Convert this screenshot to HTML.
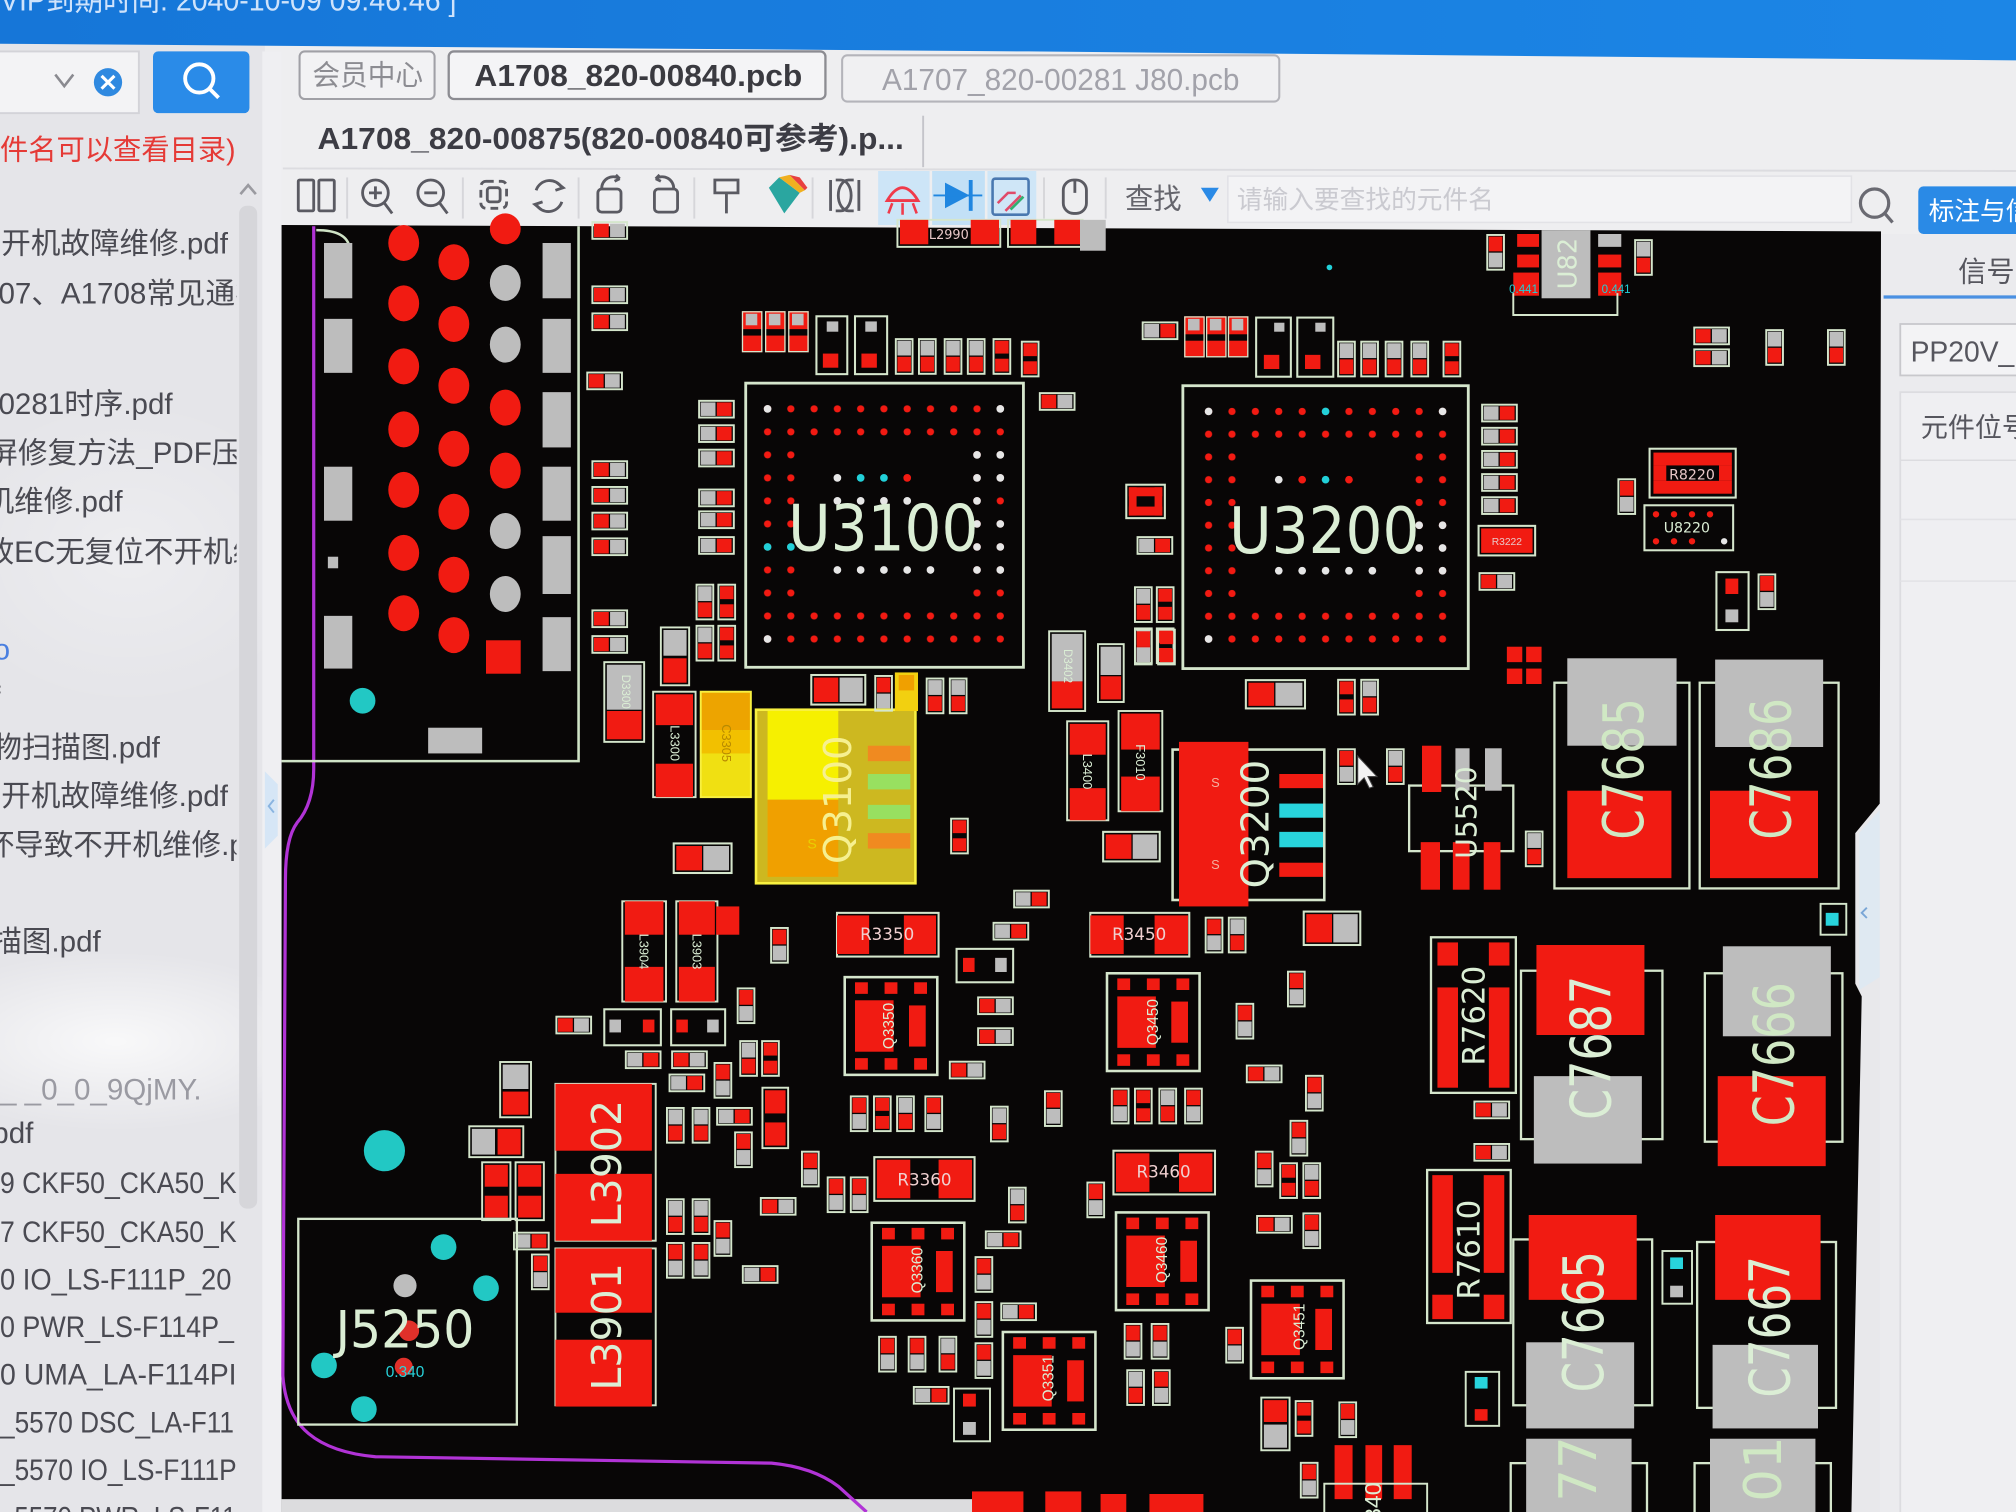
<!DOCTYPE html>
<html><head><meta charset="utf-8"><style>
html,body{margin:0;padding:0;width:2016px;height:1512px;overflow:hidden;background:#e8e8eb}
svg{display:block}
</style></head><body>
<svg xmlns="http://www.w3.org/2000/svg" xmlns:xlink="http://www.w3.org/1999/xlink" width="2016" height="1512" viewBox="0 0 1568 1176" preserveAspectRatio="none" font-family="'Liberation Sans','Noto Sans CJK SC',sans-serif">
<defs>
<pattern id="pa" x="587.95" y="309.05" width="18.1" height="17.9" patternUnits="userSpaceOnUse"><circle cx="9.05" cy="8.95" r="2.8" fill="#f21a12"/></pattern>
<pattern id="pb" x="930.9" y="311.15" width="18.2" height="17.7" patternUnits="userSpaceOnUse"><circle cx="9.1" cy="8.85" r="2.8" fill="#f21a12"/></pattern>
<g id="V1"><rect x="0.75" y="0.75" width="13" height="27" fill="none" stroke="#d5e6cc" stroke-width="1.5"/><rect x="2" y="2" width="10.5" height="11.5" fill="#bdbdbd"/><rect x="2" y="14.5" width="10.5" height="11.5" fill="#f11b12"/></g>
<g id="V2"><rect x="0.75" y="0.75" width="13" height="27" fill="none" stroke="#d5e6cc" stroke-width="1.5"/><rect x="2" y="2" width="10.5" height="11.5" fill="#f11b12"/><rect x="2" y="14.5" width="10.5" height="11.5" fill="#bdbdbd"/></g>
<g id="V3"><rect x="0.75" y="0.75" width="13" height="27" fill="none" stroke="#d5e6cc" stroke-width="1.5"/><rect x="2" y="2" width="10.5" height="10" fill="#f11b12"/><rect x="2" y="16" width="10.5" height="10" fill="#f11b12"/></g>
<g id="H1"><rect x="0.75" y="0.75" width="27" height="13" fill="none" stroke="#d5e6cc" stroke-width="1.5"/><rect x="2" y="2" width="11.5" height="10.5" fill="#f11b12"/><rect x="14.5" y="2" width="11.5" height="10.5" fill="#bdbdbd"/></g>
<g id="H2"><rect x="0.75" y="0.75" width="27" height="13" fill="none" stroke="#d5e6cc" stroke-width="1.5"/><rect x="2" y="2" width="11.5" height="10.5" fill="#bdbdbd"/><rect x="14.5" y="2" width="11.5" height="10.5" fill="#f11b12"/></g>
<g id="Q8"><rect x="0" y="0" width="72" height="76" fill="none" stroke="#d5e6cc" stroke-width="2"/><rect x="8" y="4" width="10" height="9" fill="#f11b12"/><rect x="31" y="4" width="10" height="9" fill="#f11b12"/><rect x="54" y="4" width="10" height="9" fill="#f11b12"/><rect x="8" y="63" width="10" height="9" fill="#f11b12"/><rect x="31" y="63" width="10" height="9" fill="#f11b12"/><rect x="54" y="63" width="10" height="9" fill="#f11b12"/><rect x="8" y="18" width="30" height="40" fill="#f11b12"/><rect x="50" y="22" width="13" height="32" fill="#f11b12"/></g>
<g id="P3"><rect x="0" y="0" width="16" height="32" fill="#f11b12"/><rect x="0" y="14" width="16" height="5" fill="#080606"/><rect x="3" y="2" width="9" height="9" fill="#bdbdbd"/><rect x="0.5" y="0.5" width="15" height="31" fill="none" stroke="#d5e6cc" stroke-width="1"/></g>
<clipPath id="lp"><rect x="0" y="90" width="184" height="1086"/></clipPath>
<radialGradient id="glare" cx="0.5" cy="0.5" r="0.5"><stop offset="0" stop-color="#ffffff" stop-opacity="0.75"/><stop offset="1" stop-color="#ffffff" stop-opacity="0"/></radialGradient>
<linearGradient id="bluebar" x1="0" y1="0" x2="1" y2="0"><stop offset="0" stop-color="#1676d8"/><stop offset="1" stop-color="#1c86e6"/></linearGradient>
</defs>

<!-- base -->
<rect x="0" y="0" width="1568" height="1176" fill="#e8e8eb"/>
<!-- left panel -->
<rect x="0" y="34" width="206" height="1142" fill="#e5e5e9"/>
<ellipse cx="90" cy="810" rx="170" ry="70" fill="url(#glare)"/>
<ellipse cx="100" cy="430" rx="150" ry="120" fill="url(#glare)" opacity="0.4"/>
<!-- main top area -->
<rect x="206" y="34" width="1362" height="150" fill="#eeeef0"/>
<!-- blue top bar -->
<polygon points="0,0 1568,0 1568,47 800,40 0,34" fill="url(#bluebar)"/>
<text x="0" y="8" font-size="24" fill="#cfe3fb" textLength="355" lengthAdjust="spacingAndGlyphs">VIP到期时间: 2040-10-09 09:46:46 ]</text>

<!-- search box left -->
<rect x="-2" y="40" width="110" height="48" fill="#f3f3f5" stroke="#d3d3d8" stroke-width="1.5"/>
<polyline points="43,58 50,67 57,58" fill="none" stroke="#8a8a90" stroke-width="2"/>
<circle cx="84" cy="64" r="11" fill="#2f89e0"/>
<path d="M79,59 L89,69 M89,59 L79,69" stroke="#fff" stroke-width="2.4"/>
<rect x="119" y="40" width="75" height="48" rx="4" fill="#2a8be8"/>
<circle cx="155" cy="61" r="11" fill="none" stroke="#fff" stroke-width="3"/>
<line x1="163" y1="69" x2="170" y2="76" stroke="#fff" stroke-width="3"/>
<text x="-22" y="124" font-size="22" fill="#e53a36">文件名可以查看目录)</text>
<polyline points="187,151 193,144 199,151" fill="none" stroke="#9a9aa0" stroke-width="2"/>
<!-- scrollbar -->
<rect x="186" y="160" width="14" height="780" rx="6" fill="#d6d6da"/>
<!-- file list -->
<g clip-path="url(#lp)" font-size="23" fill="#4a4a52">
<text x="-22" y="197">不开机故障维修.pdf</text>
<text x="-14" y="236">707、A1708常见通病维修</text>
<text x="-14" y="322">00281时序.pdf</text>
<text x="-9" y="360">屏修复方法_PDF压缩</text>
<text x="-12" y="398">机维修.pdf</text>
<text x="-12" y="437">故EC无复位不开机维修</text>
<text x="-5" y="513" fill="#4a7fe0">o</text>
<text x="-6" y="550">f</text>
<text x="-6" y="589">物扫描图.pdf</text>
<text x="-22" y="627">不开机故障维修.pdf</text>
<text x="-12" y="665">坏导致不开机维修.pdf</text>
<text x="-6" y="740">描图.pdf</text>
<text x="0" y="855" fill="#9a9aa2">_ _0_0_9QjMY.</text>
<text x="-6" y="889">pdf</text>
<text x="0" y="928" textLength="184" lengthAdjust="spacingAndGlyphs">9 CKF50_CKA50_K</text>
<text x="0" y="966" textLength="184" lengthAdjust="spacingAndGlyphs">7 CKF50_CKA50_K</text>
<text x="0" y="1003" textLength="180" lengthAdjust="spacingAndGlyphs">0 IO_LS-F111P_20</text>
<text x="0" y="1040" textLength="182" lengthAdjust="spacingAndGlyphs">0 PWR_LS-F114P_</text>
<text x="0" y="1077" textLength="184" lengthAdjust="spacingAndGlyphs">0 UMA_LA-F114PI</text>
<text x="0" y="1114" textLength="182" lengthAdjust="spacingAndGlyphs">_5570 DSC_LA-F11</text>
<text x="0" y="1151" textLength="184" lengthAdjust="spacingAndGlyphs">_5570 IO_LS-F111P</text>
<text x="0" y="1188" textLength="184" lengthAdjust="spacingAndGlyphs">_5570 PWR_LS-F11</text>
</g>
<!-- separator -->
<rect x="204" y="40" width="15" height="1136" fill="#efeff2"/>
<path d="M206,600 L216,610 L216,650 L206,660 Z" fill="#d6e6f6"/>
<polyline points="213,622 209,627 213,632" fill="none" stroke="#8ab4e0" stroke-width="1.5"/>

<!-- tabs -->
<rect x="233" y="40" width="105" height="37" rx="4" fill="#f2f2f4" stroke="#a0a0a6" stroke-width="1.6"/>
<text x="243" y="66" font-size="22" fill="#8c8c92" textLength="86" lengthAdjust="spacingAndGlyphs">会员中心</text>
<rect x="349" y="40" width="293" height="37" rx="4" fill="#f4f4f6" stroke="#8c8c92" stroke-width="1.8"/>
<text x="369" y="67" font-size="24" font-weight="bold" fill="#3a3a40" textLength="255" lengthAdjust="spacingAndGlyphs">A1708_820-00840.pcb</text>
<rect x="655" y="43" width="340" height="36" rx="4" fill="#f0f0f2" stroke="#b4b4ba" stroke-width="1.6"/>
<text x="686" y="70" font-size="24" fill="#a2a2aa" textLength="278" lengthAdjust="spacingAndGlyphs">A1707_820-00281 J80.pcb</text>
<text x="247" y="116" font-size="24" font-weight="bold" fill="#3c3c44" textLength="456" lengthAdjust="spacingAndGlyphs">A1708_820-00875(820-00840可参考).p...</text>
<line x1="718" y1="90" x2="718" y2="130" stroke="#c4c4ca" stroke-width="1.5"/>
<line x1="220" y1="131" x2="1568" y2="133" stroke="#dcdce0" stroke-width="1.5"/>

<!-- toolbar icons -->
<g fill="none" stroke="#5a5a62" stroke-width="2.2">
<rect x="232" y="140" width="12" height="24" rx="1"/><rect x="248" y="140" width="12" height="24" rx="1"/>
<circle cx="292" cy="150" r="10"/><line x1="299" y1="158" x2="305" y2="166"/><path d="M287,150 h10 M292,145 v10"/>
<circle cx="335" cy="150" r="10"/><line x1="342" y1="158" x2="348" y2="166"/><path d="M330,150 h10"/>
<rect x="374" y="141" width="20" height="21" rx="4" stroke-dasharray="6 4"/><rect x="379" y="146" width="10" height="11" rx="2"/>
<path d="M417,148 A11,11 0 0 1 437,146 M437,157 A11,11 0 0 1 417,159"/><path d="M433,142 l5,4 l-6,2 M421,163 l-5,-4 l6,-2"/>
<rect x="465" y="147" width="18" height="18" rx="3"/><path d="M468,147 A9,9 0 0 1 482,139 l-3,-3 M482,139 l-4,2"/>
<rect x="509" y="147" width="18" height="18" rx="3"/><path d="M524,147 A9,9 0 0 0 510,139 l3,-3 M510,139 l4,2"/>
<path d="M556,140 h18 v10 h-18 z M565,150 v16"/>
<path d="M646,140 v24 M650,140 h4 a8,12 0 0 1 0,24 h-4 M668,140 v24 M664,140 h-4 a8,12 0 0 0 0,24 h4"/>
<rect x="827" y="140" width="18" height="26" rx="8"/><line x1="836" y1="140" x2="836" y2="150"/>
</g>
<g stroke="#d6d6da" stroke-width="1.5"><line x1="270" y1="138" x2="270" y2="170"/><line x1="360" y1="138" x2="360" y2="170"/><line x1="450" y1="138" x2="450" y2="170"/><line x1="540" y1="138" x2="540" y2="170"/><line x1="632" y1="138" x2="632" y2="170"/><line x1="812" y1="138" x2="812" y2="170"/><line x1="860" y1="138" x2="860" y2="170"/></g>
<polygon points="598,146 606,138 622,150 610,166" fill="#2aa6a0"/><polygon points="606,138 614,136 626,148 622,150" fill="#f0b020"/><polygon points="614,136 622,138 628,146 626,148" fill="#e84040"/>
<rect x="683" y="133" width="40" height="42" fill="#cde5f7"/>
<path d="M690,156 q12,-20 24,0 z" fill="none" stroke="#f03a4a" stroke-width="2.2"/><path d="M694,158 l-3,8 M702,158 v9 M710,158 l3,8" stroke="#f03a4a" stroke-width="2"/>
<rect x="725" y="133" width="41" height="42" fill="#c2e0f6"/>
<polygon points="735,142 754,152 735,162" fill="#1f86e0"/><line x1="755" y1="140" x2="755" y2="164" stroke="#1f86e0" stroke-width="3"/><line x1="726" y1="152" x2="764" y2="152" stroke="#1f86e0" stroke-width="1.5"/>
<rect x="768" y="133" width="38" height="42" fill="#cfe6f7"/>
<rect x="772" y="139" width="28" height="28" rx="2" fill="none" stroke="#4a78b0" stroke-width="2"/><path d="M776,158 l8,-8 h6 M782,164 l12,-12" stroke="#e04a6a" stroke-width="2" fill="none"/><path d="M786,163 l10,-10" stroke="#30b070" stroke-width="2"/>
<text x="875" y="162" font-size="22" fill="#65656c">查找</text>
<polygon points="934,146 948,146 941,157" fill="#2a8ae6"/>
<rect x="955" y="137" width="485" height="36" fill="#f3f3f5" stroke="#e2e2e6" stroke-width="1.2"/>
<text x="962" y="162" font-size="20" fill="#cacad0">请输入要查找的元件名</text>
<circle cx="1458" cy="158" r="11" fill="none" stroke="#6a6a72" stroke-width="2.5"/><line x1="1466" y1="166" x2="1472" y2="173" stroke="#6a6a72" stroke-width="2.5"/>
<rect x="1492" y="145" width="82" height="37" rx="4" fill="#2a8ae6"/>
<text x="1500" y="171" font-size="20" fill="#ffffff">标注与信号</text>

<!-- right panel -->
<rect x="1462" y="182" width="106" height="994" fill="#ebebee"/>
<text x="1523" y="219" font-size="22" fill="#56565e">信号</text>
<line x1="1465" y1="231" x2="1568" y2="231" stroke="#4a90e2" stroke-width="2.5"/>
<rect x="1478" y="252" width="100" height="40" fill="#f3f3f5" stroke="#c8c8cc" stroke-width="1.4"/>
<text x="1486" y="281" font-size="22" fill="#56565e">PP20V_U</text>
<rect x="1478" y="305" width="100" height="880" fill="#efeff2" stroke="#dcdce0" stroke-width="1.4"/>
<text x="1494" y="340" font-size="21" fill="#56565e">元件位号</text>
<line x1="1478" y1="358" x2="1568" y2="358" stroke="#dcdce0" stroke-width="1.2"/>
<line x1="1478" y1="404" x2="1568" y2="404" stroke="#e2e2e6" stroke-width="1.2"/>
<line x1="1478" y1="452" x2="1568" y2="452" stroke="#e2e2e6" stroke-width="1.2"/>

<!-- PCB black -->
<polygon points="219,175 1463,180 1462,625 1443,648 1443,765 1448,775 1440,1176 219,1176" fill="#080606"/>
<path d="M1446,648 L1462,630 L1462,760 L1446,770 Z" fill="#dfe9f2"/>
<polyline points="1452,706 1448,710 1452,714" fill="none" stroke="#7aa6d6" stroke-width="1.5"/>
<rect x="219" y="1166" width="540" height="10" fill="#dcdcde"/>

<!-- board edge & outlines -->
<path d="M244,176 L244,598 Q244,625 231,640 Q222,652 222,684 L220,1070 Q222,1100 240,1115 Q258,1130 292,1133 L600,1138 Q632,1141 652,1156 L674,1176" fill="none" stroke="#b133d6" stroke-width="2.5"/>
<path d="M450,176 L450,592 L219,592" fill="none" stroke="#cfe3c6" stroke-width="2"/>
<path d="M246,179 Q270,179 272,193" fill="none" stroke="#cfe3c6" stroke-width="2"/>

<!-- connector block -->
<g fill="#bdbdbd">
<rect x="252" y="189" width="22" height="43"/><rect x="252" y="248" width="22" height="42"/><rect x="252" y="363" width="22" height="42"/><rect x="255" y="433" width="8" height="9"/><rect x="252" y="479" width="22" height="41"/>
<rect x="422" y="189" width="22" height="43"/><rect x="422" y="248" width="22" height="42"/><rect x="422" y="305" width="22" height="43"/><rect x="422" y="363" width="22" height="42"/><rect x="422" y="417" width="22" height="45"/><rect x="422" y="480" width="22" height="42"/>
<rect x="333" y="566" width="42" height="20"/>
<ellipse cx="393" cy="220" rx="12" ry="14"/><ellipse cx="393" cy="268" rx="12" ry="14"/><ellipse cx="393" cy="413" rx="12" ry="14"/><ellipse cx="393" cy="462" rx="12" ry="14"/>
</g>
<g fill="#f11b12">
<ellipse cx="314" cy="189" rx="12" ry="14"/><ellipse cx="314" cy="236" rx="12" ry="14"/><ellipse cx="314" cy="285" rx="12" ry="14"/><ellipse cx="314" cy="334" rx="12" ry="14"/><ellipse cx="314" cy="381" rx="12" ry="14"/><ellipse cx="314" cy="430" rx="12" ry="14"/><ellipse cx="314" cy="477" rx="12" ry="14"/>
<ellipse cx="353" cy="204" rx="12" ry="14"/><ellipse cx="353" cy="252" rx="12" ry="14"/><ellipse cx="353" cy="300" rx="12" ry="14"/><ellipse cx="353" cy="349" rx="12" ry="14"/><ellipse cx="353" cy="398" rx="12" ry="14"/><ellipse cx="353" cy="447" rx="12" ry="14"/><ellipse cx="353" cy="494" rx="12" ry="14"/>
<ellipse cx="393" cy="178" rx="12" ry="12"/><ellipse cx="393" cy="317" rx="12" ry="14"/><ellipse cx="393" cy="366" rx="12" ry="14"/>
<rect x="378" y="498" width="27" height="26"/>
</g>
<circle cx="282" cy="545" r="10" fill="#22c8c4"/>

<!-- column pads x460 -->
<use href="#H1" x="460" y="172"/><use href="#H1" x="460" y="222"/><use href="#H1" x="460" y="243"/><use href="#H1" x="456" y="289"/>
<use href="#H1" x="460" y="358"/><use href="#H1" x="460" y="378"/><use href="#H1" x="460" y="398"/><use href="#H1" x="460" y="418"/>
<use href="#H1" x="460" y="474"/><use href="#H1" x="460" y="494"/>
<!-- left of U3100 -->
<use href="#H2" x="543" y="311"/><use href="#H2" x="543" y="330"/><use href="#H2" x="543" y="349"/><use href="#H2" x="543" y="380"/><use href="#H2" x="543" y="397"/><use href="#H2" x="543" y="417"/>
<use href="#V1" x="541" y="454"/><use href="#V3" x="558" y="454"/><use href="#V1" x="541" y="486"/><use href="#V3" x="558" y="486"/>
<!-- above U3100 -->
<use href="#P3" x="577" y="242"/><use href="#P3" x="595" y="242"/><use href="#P3" x="613" y="242"/>
<rect x="635" y="246" width="24" height="45" fill="none" stroke="#d5e6cc" stroke-width="1.6"/><rect x="640" y="275" width="12" height="11" fill="#f11b12"/><rect x="643" y="250" width="9" height="8" fill="#bdbdbd"/>
<rect x="665" y="246" width="25" height="45" fill="none" stroke="#d5e6cc" stroke-width="1.6"/><rect x="670" y="275" width="12" height="11" fill="#f11b12"/><rect x="673" y="250" width="9" height="8" fill="#bdbdbd"/>
<use href="#V1" x="696" y="263"/><use href="#V1" x="714" y="263"/><use href="#V1" x="734" y="263"/><use href="#V1" x="752" y="263"/><use href="#V3" x="772" y="263"/><use href="#V3" x="794" y="265"/>
<use href="#H1" x="808" y="305"/>
<!-- top strip -->
<rect x="698" y="171" width="80" height="21" fill="none" stroke="#d5e6cc" stroke-width="1.5"/><rect x="700" y="171" width="22" height="19" fill="#f11b12"/><rect x="755" y="171" width="22" height="19" fill="#f11b12"/>
<text x="738" y="186" font-size="10" fill="#e8c8c8" text-anchor="middle" font-family="'DejaVu Sans',sans-serif">L2990</text>
<rect x="784" y="171" width="58" height="21" fill="none" stroke="#d5e6cc" stroke-width="1.5"/><rect x="786" y="171" width="20" height="19" fill="#f11b12"/><rect x="820" y="171" width="20" height="19" fill="#f11b12"/><rect x="840" y="171" width="20" height="24" fill="#bdbdbd"/>

<!-- U3100 -->
<rect x="580" y="298" width="216" height="221" fill="none" stroke="#d5e6cc" stroke-width="2.2"/>
<rect x="587.95" y="309.05" width="199.1" height="35.8" fill="url(#pa)"/>
<rect x="587.95" y="344.85" width="36.2" height="125.3" fill="url(#pa)"/>
<rect x="750.85" y="344.85" width="36.2" height="125.3" fill="url(#pa)"/>
<rect x="587.95" y="470.15" width="199.1" height="35.85" fill="url(#pa)"/>
<g fill="#e6e6e6">
<circle cx="597" cy="318" r="3"/><circle cx="778" cy="318" r="3"/><circle cx="759.9" cy="353.8" r="3"/><circle cx="778" cy="353.8" r="3"/>
<circle cx="651.3" cy="371.7" r="3"/><circle cx="759.9" cy="371.7" r="3"/><circle cx="778" cy="371.7" r="3"/>
<circle cx="651.3" cy="389.6" r="3"/><circle cx="669.4" cy="389.6" r="3"/><circle cx="687.5" cy="389.6" r="3"/><circle cx="705.6" cy="389.6" r="3"/><circle cx="759.9" cy="389.6" r="3"/>
<circle cx="759.9" cy="407.5" r="3"/><circle cx="778" cy="407.5" r="3"/><circle cx="759.9" cy="425.4" r="3"/><circle cx="778" cy="425.4" r="3"/>
<circle cx="651.3" cy="443.3" r="3"/><circle cx="669.4" cy="443.3" r="3"/><circle cx="687.5" cy="443.3" r="3"/><circle cx="705.6" cy="443.3" r="3"/><circle cx="723.7" cy="443.3" r="3"/><circle cx="759.9" cy="443.3" r="3"/><circle cx="778" cy="443.3" r="3"/>
<circle cx="597" cy="497" r="3"/>
</g>
<g fill="#22d0d8"><circle cx="669.4" cy="371.7" r="3"/><circle cx="687.5" cy="371.7" r="3"/><circle cx="597" cy="425.4" r="3"/><circle cx="615.1" cy="425.4" r="3"/></g>
<circle cx="705.6" cy="371.7" r="3" fill="#f21a12"/>
<text x="687" y="428" font-size="50" fill="#dbeed5" text-anchor="middle" textLength="148" lengthAdjust="spacingAndGlyphs" font-family="'DejaVu Sans',sans-serif">U3100</text>

<!-- U3200 top area -->
<use href="#H2" x="888" y="250"/>
<use href="#P3" x="921" y="246"/><use href="#P3" x="938" y="246"/><use href="#P3" x="955" y="246"/>
<rect x="977" y="247" width="27" height="46" fill="none" stroke="#d5e6cc" stroke-width="1.6"/><rect x="983" y="276" width="12" height="11" fill="#f11b12"/><rect x="991" y="251" width="8" height="7" fill="#bdbdbd"/>
<rect x="1009" y="247" width="28" height="46" fill="none" stroke="#d5e6cc" stroke-width="1.6"/><rect x="1015" y="276" width="12" height="11" fill="#f11b12"/><rect x="1023" y="251" width="8" height="7" fill="#bdbdbd"/>
<use href="#V1" x="1040" y="265"/><use href="#V1" x="1058" y="265"/><use href="#V1" x="1077" y="265"/><use href="#V1" x="1097" y="265"/><use href="#V3" x="1122" y="265"/>
<!-- U82 -->
<use href="#V2" x="1156" y="182"/>
<rect x="1180" y="182" width="17" height="10" fill="#f11b12"/><rect x="1180" y="198" width="17" height="10" fill="#f11b12"/><rect x="1177" y="212" width="20" height="18" fill="#f11b12"/>
<rect x="1199" y="179" width="38" height="53" fill="#bdbdbd"/>
<text transform="translate(1220,205) rotate(-90)" font-size="20" fill="#dbeed5" text-anchor="middle" dominant-baseline="central" font-family="'DejaVu Sans',sans-serif">U82</text>
<rect x="1243" y="182" width="18" height="10" fill="#bdbdbd"/><rect x="1243" y="198" width="18" height="10" fill="#f11b12"/><rect x="1243" y="212" width="18" height="18" fill="#f11b12"/>
<use href="#V1" x="1271" y="186"/>
<path d="M1177,228 L1177,245 L1258,245 L1258,228" fill="none" stroke="#d5e6cc" stroke-width="1.5"/>
<text x="1185" y="228" font-size="9" fill="#22d0d8" text-anchor="middle">0.441</text><text x="1257" y="228" font-size="9" fill="#22d0d8" text-anchor="middle">0.441</text>
<circle cx="1034" cy="208" r="2.2" fill="#22d0d8"/>
<!-- right top pads -->
<use href="#H1" x="1317" y="254"/><use href="#H1" x="1317" y="271"/>
<use href="#V1" x="1373" y="256"/><use href="#V1" x="1421" y="256"/>
<!-- R8220 / U8220 -->
<rect x="1283" y="349" width="67" height="38" fill="none" stroke="#d5e6cc" stroke-width="1.6"/>
<rect x="1286" y="352" width="61" height="10" fill="#f11b12"/><rect x="1286" y="374" width="61" height="10" fill="#f11b12"/>
<rect x="1286" y="362" width="10" height="12" fill="#f11b12"/><rect x="1337" y="362" width="10" height="12" fill="#f11b12"/>
<text x="1316" y="373" font-size="11" fill="#e8c8c8" text-anchor="middle" font-family="'DejaVu Sans',sans-serif">R8220</text>
<rect x="1279" y="393" width="69" height="35" fill="none" stroke="#d5e6cc" stroke-width="1.6"/>
<g fill="#f11b12"><circle cx="1288" cy="400" r="2.5"/><circle cx="1302" cy="400" r="2.5"/><circle cx="1316" cy="400" r="2.5"/><circle cx="1330" cy="400" r="2.5"/><circle cx="1288" cy="421" r="2.5"/><circle cx="1302" cy="421" r="2.5"/><circle cx="1316" cy="421" r="2.5"/></g>
<circle cx="1341" cy="421" r="2.5" fill="#e6e6e6"/>
<text x="1312" y="414" font-size="11" fill="#dbeed5" text-anchor="middle" font-family="'DejaVu Sans',sans-serif">U8220</text>
<use href="#V2" x="1258" y="372"/>
<rect x="1335" y="445" width="25" height="45" fill="none" stroke="#d5e6cc" stroke-width="1.6"/><rect x="1342" y="450" width="10" height="12" fill="#f11b12"/><rect x="1342" y="474" width="10" height="10" fill="#bdbdbd"/>
<use href="#V2" x="1367" y="446"/>
<rect x="1172" y="503" width="12" height="12" fill="#f11b12"/><rect x="1187" y="503" width="12" height="12" fill="#f11b12"/><rect x="1172" y="520" width="12" height="12" fill="#f11b12"/><rect x="1187" y="520" width="12" height="12" fill="#f11b12"/>
<!-- right of U3200 -->
<use href="#H2" x="1152" y="314"/><use href="#H2" x="1152" y="332"/><use href="#H2" x="1152" y="350"/><use href="#H2" x="1152" y="368"/><use href="#H2" x="1152" y="386"/>
<rect x="1150" y="409" width="44" height="23" fill="none" stroke="#d5e6cc" stroke-width="1.6"/><rect x="1152" y="411" width="40" height="19" fill="#f11b12"/>
<text x="1172" y="424" font-size="8" fill="#e8c8c8" text-anchor="middle">R3222</text>
<use href="#H1" x="1150" y="445"/>
<!-- left of U3200 -->
<rect x="876" y="377" width="30" height="26" fill="none" stroke="#d5e6cc" stroke-width="1.6"/><rect x="878" y="379" width="26" height="7" fill="#f11b12"/><rect x="878" y="394" width="26" height="7" fill="#f11b12"/><rect x="878" y="379" width="6" height="22" fill="#f11b12"/><rect x="898" y="379" width="6" height="22" fill="#f11b12"/>
<use href="#H2" x="884" y="417"/>
<use href="#V1" x="882" y="456"/><use href="#V3" x="899" y="456"/><use href="#V1" x="882" y="488"/><use href="#V3" x="899" y="488"/>

<!-- U3200 -->
<rect x="920" y="300" width="222" height="220" fill="none" stroke="#d5e6cc" stroke-width="2.2"/>
<rect x="930.9" y="311.15" width="200.2" height="35.4" fill="url(#pb)"/>
<rect x="930.9" y="346.55" width="36.4" height="123.9" fill="url(#pb)"/>
<rect x="1094.7" y="346.55" width="36.4" height="123.9" fill="url(#pb)"/>
<rect x="930.9" y="470.45" width="200.2" height="35.4" fill="url(#pb)"/>
<g fill="#e6e6e6">
<circle cx="940" cy="320" r="3"/><circle cx="1122" cy="320" r="3"/>
<circle cx="994.6" cy="373.1" r="3"/>
<circle cx="1103.8" cy="408.5" r="3"/><circle cx="1122" cy="408.5" r="3"/><circle cx="1103.8" cy="426.2" r="3"/><circle cx="1122" cy="426.2" r="3"/>
<circle cx="994.6" cy="443.9" r="3"/><circle cx="1012.8" cy="443.9" r="3"/><circle cx="1031" cy="443.9" r="3"/><circle cx="1049.2" cy="443.9" r="3"/><circle cx="1067.4" cy="443.9" r="3"/><circle cx="1103.8" cy="443.9" r="3"/><circle cx="1122" cy="443.9" r="3"/>
<circle cx="940" cy="497" r="3"/>
</g>
<circle cx="1031" cy="320" r="3" fill="#22d0d8"/><circle cx="1031" cy="373.1" r="3" fill="#22d0d8"/>
<circle cx="1012.8" cy="373.1" r="3" fill="#f21a12"/><circle cx="1049.2" cy="373.1" r="3" fill="#f21a12"/>
<text x="1030" y="430" font-size="50" fill="#dbeed5" text-anchor="middle" textLength="148" lengthAdjust="spacingAndGlyphs" font-family="'DejaVu Sans',sans-serif">U3200</text>

<!-- below U3100 -->
<rect x="514" y="488" width="22" height="45" fill="none" stroke="#d5e6cc" stroke-width="1.5"/><rect x="516" y="490" width="18" height="20" fill="#bdbdbd"/><rect x="516" y="512" width="18" height="19" fill="#f11b12"/>
<rect x="470" y="515" width="31" height="62" fill="none" stroke="#d5e6cc" stroke-width="1.5"/><rect x="472" y="517" width="27" height="35" fill="#bdbdbd"/><rect x="472" y="553" width="27" height="22" fill="#f11b12"/>
<text transform="translate(486,538) rotate(90)" font-size="9" fill="#dbeed5" text-anchor="middle" dominant-baseline="central">D3300</text>
<rect x="508" y="538" width="33" height="82" fill="none" stroke="#d5e6cc" stroke-width="1.5"/><rect x="510" y="540" width="29" height="24" fill="#f11b12"/><rect x="510" y="594" width="29" height="26" fill="#f11b12"/>
<text transform="translate(525,578) rotate(90)" font-size="10" fill="#dbeed5" text-anchor="middle" dominant-baseline="central">L3300</text>
<rect x="545" y="538" width="39" height="82" fill="#f0e012"/><rect x="545" y="538" width="39" height="30" fill="#eda400"/><rect x="545" y="568" width="39" height="18" fill="#f2c000"/>
<rect x="545" y="538" width="39" height="82" fill="none" stroke="#f8f040" stroke-width="1.5"/>
<text transform="translate(565,578) rotate(90)" font-size="10" fill="#b88a00" text-anchor="middle" dominant-baseline="central">C3305</text>
<!-- Q3100 -->
<rect x="588" y="552" width="124" height="135" fill="#cdb820"/>
<rect x="597" y="553" width="55" height="69" fill="#f6f000"/>
<rect x="597" y="622" width="55" height="60" fill="#f0a000"/>
<rect x="675" y="580" width="33" height="12" fill="#f08a20"/><rect x="675" y="602" width="33" height="12" fill="#98e060"/><rect x="675" y="626" width="33" height="11" fill="#98e060"/><rect x="675" y="648" width="33" height="12" fill="#f08a20"/>
<rect x="588" y="552" width="124" height="135" fill="none" stroke="#f8f040" stroke-width="2"/>
<text x="628" y="660" font-size="11" fill="#e8d000">S</text>
<text transform="translate(652,622) rotate(-90)" font-size="30" fill="#f6f090" text-anchor="middle" dominant-baseline="central" font-family="'DejaVu Sans',sans-serif">Q3100</text>
<rect x="696" y="523" width="18" height="30" fill="#f2d010"/><rect x="699" y="525" width="12" height="12" fill="#f0a000"/>
<rect x="631" y="525" width="42" height="23" fill="none" stroke="#d5e6cc" stroke-width="1.6"/><rect x="633" y="527" width="19" height="19" fill="#f11b12"/><rect x="653" y="527" width="18" height="19" fill="#bdbdbd"/>
<use href="#V2" x="680" y="525"/><use href="#V1" x="720" y="527"/><use href="#V1" x="738" y="527"/>
<rect x="524" y="656" width="45" height="23" fill="none" stroke="#d5e6cc" stroke-width="1.6"/><rect x="526" y="658" width="20" height="19" fill="#f11b12"/><rect x="547" y="658" width="20" height="19" fill="#bdbdbd"/>
<use href="#V3" x="739" y="636"/>
<!-- D3402 etc -->
<rect x="816" y="491" width="28" height="62" fill="none" stroke="#d5e6cc" stroke-width="1.5"/><rect x="818" y="493" width="24" height="37" fill="#bdbdbd"/><rect x="818" y="530" width="24" height="21" fill="#f11b12"/>
<text transform="translate(830,518) rotate(90)" font-size="9" fill="#dbeed5" text-anchor="middle" dominant-baseline="central">D3402</text>
<rect x="854" y="501" width="20" height="45" fill="none" stroke="#d5e6cc" stroke-width="1.5"/><rect x="856" y="503" width="16" height="22" fill="#bdbdbd"/><rect x="856" y="526" width="16" height="18" fill="#f11b12"/>
<use href="#V2" x="882" y="489"/><use href="#V3" x="900" y="489"/>
<rect x="969" y="529" width="46" height="22" fill="none" stroke="#d5e6cc" stroke-width="1.6"/><rect x="971" y="531" width="20" height="18" fill="#f11b12"/><rect x="992" y="531" width="21" height="18" fill="#bdbdbd"/>
<use href="#V3" x="1040" y="528"/><use href="#V1" x="1058" y="528"/>
<rect x="830" y="561" width="32" height="77" fill="none" stroke="#d5e6cc" stroke-width="1.5"/><rect x="832" y="563" width="28" height="24" fill="#f11b12"/><rect x="832" y="613" width="28" height="25" fill="#f11b12"/>
<text transform="translate(846,600) rotate(90)" font-size="10" fill="#dbeed5" text-anchor="middle" dominant-baseline="central">L3400</text>
<rect x="870" y="553" width="34" height="78" fill="none" stroke="#d5e6cc" stroke-width="1.5"/><rect x="872" y="555" width="30" height="28" fill="#f11b12"/><rect x="872" y="604" width="30" height="27" fill="#f11b12"/>
<text transform="translate(887,593) rotate(90)" font-size="10" fill="#dbeed5" text-anchor="middle" dominant-baseline="central">F3010</text>
<rect x="858" y="647" width="44" height="23" fill="none" stroke="#d5e6cc" stroke-width="1.6"/><rect x="860" y="649" width="20" height="19" fill="#f11b12"/><rect x="881" y="649" width="19" height="19" fill="#bdbdbd"/>
<!-- Q3200 -->
<rect x="912" y="583" width="118" height="117" fill="none" stroke="#d5e6cc" stroke-width="2"/>
<rect x="917" y="577" width="54" height="128" fill="#f11b12"/>
<text x="942" y="612" font-size="10" fill="#f4b0a0">S</text><text x="942" y="676" font-size="10" fill="#f4b0a0">S</text>
<rect x="995" y="602" width="34" height="11" fill="#f11b12"/><rect x="995" y="625" width="34" height="11" fill="#28d4dc"/><rect x="995" y="647" width="34" height="12" fill="#28d4dc"/><rect x="995" y="671" width="34" height="11" fill="#f11b12"/>
<text transform="translate(977,641) rotate(-90)" font-size="30" fill="#dbeed5" text-anchor="middle" dominant-baseline="central" font-family="'DejaVu Sans',sans-serif">Q3200</text>
<use href="#V2" x="1040" y="582"/><use href="#V1" x="1078" y="582"/>
<!-- U5520 -->
<rect x="1096" y="611" width="81" height="51" fill="none" stroke="#d5e6cc" stroke-width="1.8"/>
<rect x="1106" y="580" width="15" height="36" fill="#f11b12"/><rect x="1132" y="582" width="11" height="33" fill="#bdbdbd"/><rect x="1155" y="582" width="13" height="33" fill="#bdbdbd"/>
<rect x="1105" y="655" width="15" height="37" fill="#f11b12"/><rect x="1130" y="655" width="13" height="37" fill="#f11b12"/><rect x="1154" y="655" width="13" height="37" fill="#f11b12"/>
<text transform="translate(1141,632) rotate(-90)" font-size="22" fill="#dbeed5" text-anchor="middle" dominant-baseline="central" font-family="'DejaVu Sans',sans-serif">U5520</text>
<use href="#V1" x="1186" y="646"/>
<polygon points="1056,588 1056,610 1061,605 1065,613 1068,612 1064,604 1071,604" fill="#f4f4f4" stroke="#444" stroke-width="0.8"/>

<!-- big caps top -->
<rect x="1209" y="531" width="105" height="160" fill="none" stroke="#d5e6cc" stroke-width="1.8"/>
<rect x="1219" y="512" width="85" height="68" fill="#bdbdbd"/><rect x="1219" y="615" width="81" height="68" fill="#f11b12"/>
<text transform="translate(1263,598) rotate(-90)" font-size="44" fill="#d0e8c4" text-anchor="middle" dominant-baseline="central" textLength="110" lengthAdjust="spacingAndGlyphs" font-family="'DejaVu Sans',sans-serif">C7685</text>
<rect x="1322" y="531" width="108" height="160" fill="none" stroke="#d5e6cc" stroke-width="1.8"/>
<rect x="1334" y="513" width="84" height="68" fill="#bdbdbd"/><rect x="1330" y="615" width="84" height="68" fill="#f11b12"/>
<text transform="translate(1378,598) rotate(-90)" font-size="44" fill="#d0e8c4" text-anchor="middle" dominant-baseline="central" textLength="110" lengthAdjust="spacingAndGlyphs" font-family="'DejaVu Sans',sans-serif">C7686</text>
<rect x="1416" y="703" width="20" height="24" fill="none" stroke="#d5e6cc" stroke-width="1.5"/><rect x="1420" y="710" width="10" height="10" fill="#28d4dc"/>

<!-- middle left -->
<rect x="484" y="701" width="34" height="78" fill="none" stroke="#d5e6cc" stroke-width="1.5"/><rect x="486" y="701" width="30" height="26" fill="#f11b12"/><rect x="486" y="752" width="30" height="27" fill="#f11b12"/>
<text transform="translate(501,740) rotate(90)" font-size="10" fill="#dbeed5" text-anchor="middle" dominant-baseline="central">L3904</text>
<rect x="526" y="701" width="32" height="78" fill="none" stroke="#d5e6cc" stroke-width="1.5"/><rect x="528" y="701" width="28" height="26" fill="#f11b12"/><rect x="528" y="752" width="28" height="27" fill="#f11b12"/>
<text transform="translate(542,740) rotate(90)" font-size="10" fill="#dbeed5" text-anchor="middle" dominant-baseline="central">L3903</text>
<rect x="557" y="705" width="18" height="22" fill="#f11b12"/>
<use href="#V2" x="599" y="721"/>
<use href="#V2" x="573" y="768"/>
<use href="#H1" x="432" y="790"/>
<rect x="470" y="785" width="44" height="28" fill="none" stroke="#d5e6cc" stroke-width="1.6"/><rect x="474" y="793" width="9" height="10" fill="#bdbdbd"/><rect x="500" y="793" width="9" height="10" fill="#f11b12"/>
<rect x="522" y="785" width="42" height="28" fill="none" stroke="#d5e6cc" stroke-width="1.6"/><rect x="526" y="793" width="9" height="10" fill="#f11b12"/><rect x="550" y="793" width="9" height="10" fill="#bdbdbd"/>
<use href="#H2" x="486" y="817"/><use href="#H1" x="522" y="817"/><use href="#H2" x="520" y="835"/>
<use href="#V2" x="555" y="826"/><use href="#V1" x="575" y="809"/><use href="#V3" x="592" y="809"/>
<rect x="593" y="846" width="20" height="47" fill="none" stroke="#d5e6cc" stroke-width="1.5"/><rect x="595" y="848" width="16" height="18" fill="#f11b12"/><rect x="595" y="873" width="16" height="18" fill="#f11b12"/>
<rect x="389" y="826" width="24" height="43" fill="none" stroke="#d5e6cc" stroke-width="1.5"/><rect x="391" y="828" width="20" height="19" fill="#bdbdbd"/><rect x="391" y="849" width="20" height="18" fill="#f11b12"/>
<rect x="365" y="876" width="42" height="24" fill="none" stroke="#d5e6cc" stroke-width="1.5"/><rect x="367" y="878" width="18" height="20" fill="#bdbdbd"/><rect x="387" y="878" width="18" height="20" fill="#f11b12"/>
<rect x="375" y="904" width="22" height="45" fill="none" stroke="#d5e6cc" stroke-width="1.5"/><rect x="377" y="906" width="18" height="17" fill="#f11b12"/><rect x="377" y="930" width="18" height="17" fill="#f11b12"/>
<rect x="401" y="904" width="22" height="45" fill="none" stroke="#d5e6cc" stroke-width="1.5"/><rect x="403" y="906" width="18" height="17" fill="#f11b12"/><rect x="403" y="930" width="18" height="17" fill="#f11b12"/>
<circle cx="299" cy="895" r="16" fill="#22c8c4"/>
<!-- L3902 / L3901 -->
<rect x="432" y="843" width="78" height="122" fill="#080606" stroke="#d5e6cc" stroke-width="1.5"/>
<rect x="432" y="843" width="75" height="52" fill="#f11b12"/><rect x="432" y="913" width="75" height="52" fill="#f11b12"/>
<text transform="translate(472,905) rotate(-90)" font-size="32" fill="#dbeed5" text-anchor="middle" dominant-baseline="central" font-family="'DejaVu Sans',sans-serif">L3902</text>
<rect x="432" y="971" width="78" height="122" fill="#080606" stroke="#d5e6cc" stroke-width="1.5"/>
<rect x="432" y="971" width="75" height="50" fill="#f11b12"/><rect x="432" y="1042" width="75" height="52" fill="#f11b12"/>
<text transform="translate(472,1032) rotate(-90)" font-size="32" fill="#dbeed5" text-anchor="middle" dominant-baseline="central" font-family="'DejaVu Sans',sans-serif">L3901</text>
<use href="#V1" x="518" y="861"/><use href="#V1" x="538" y="861"/><use href="#H2" x="557" y="861"/><use href="#V2" x="571" y="880"/>
<use href="#V1" x="518" y="932"/><use href="#V1" x="538" y="932"/><use href="#V2" x="518" y="966"/><use href="#V2" x="538" y="966"/>
<use href="#V2" x="555" y="949"/><use href="#H1" x="591" y="931"/><use href="#H2" x="577" y="984"/>
<use href="#H2" x="399" y="958"/><use href="#V2" x="413" y="975"/>
<use href="#V2" x="623" y="895"/><use href="#V2" x="643" y="915"/><use href="#V2" x="661" y="915"/>
<!-- J5250 -->
<rect x="232" y="948" width="170" height="160" fill="none" stroke="#d5e6cc" stroke-width="1.8"/>
<circle cx="345" cy="970" r="10" fill="#22c8c4"/><circle cx="378" cy="1002" r="10" fill="#22c8c4"/><circle cx="252" cy="1062" r="10" fill="#22c8c4"/><circle cx="283" cy="1096" r="10" fill="#22c8c4"/>
<circle cx="315" cy="1000" r="9" fill="#bdbdbd"/><circle cx="318" cy="1035" r="8" fill="#e0302a"/><circle cx="314" cy="1063" r="7" fill="#e0302a"/>
<text x="315" y="1048" font-size="40" fill="#dbeed5" text-anchor="middle" textLength="108" lengthAdjust="spacingAndGlyphs" font-family="'DejaVu Sans',sans-serif">J5250</text>
<text x="315" y="1071" font-size="12" fill="#28d4dc" text-anchor="middle">0.340</text>

<!-- R3350 etc -->
<rect x="651" y="710" width="79" height="34" fill="none" stroke="#d5e6cc" stroke-width="1.6"/><rect x="651" y="712" width="25" height="30" fill="#f11b12"/><rect x="703" y="712" width="25" height="30" fill="#f11b12"/>
<text x="690" y="731" font-size="13" fill="#f0d0d0" text-anchor="middle" font-family="'DejaVu Sans',sans-serif">R3350</text>
<use href="#H2" x="772" y="717"/><use href="#H2" x="788" y="692"/>
<rect x="744" y="738" width="44" height="26" fill="none" stroke="#d5e6cc" stroke-width="1.6"/><rect x="749" y="745" width="9" height="11" fill="#f11b12"/><rect x="774" y="745" width="9" height="11" fill="#bdbdbd"/>
<use href="#Q8" x="657" y="760"/>
<text transform="translate(692,798) rotate(-90)" font-size="12" fill="#dbeed5" text-anchor="middle" dominant-baseline="central">Q3350</text>
<use href="#H1" x="760" y="775"/><use href="#H1" x="760" y="799"/><use href="#H1" x="738" y="825"/>
<use href="#V2" x="661" y="852"/><use href="#V3" x="679" y="852"/><use href="#V1" x="697" y="852"/><use href="#V2" x="719" y="852"/>
<use href="#V1" x="770" y="860"/><use href="#V2" x="812" y="848"/>
<rect x="680" y="900" width="78" height="34" fill="none" stroke="#d5e6cc" stroke-width="1.6"/><rect x="682" y="902" width="26" height="30" fill="#f11b12"/><rect x="730" y="902" width="26" height="30" fill="#f11b12"/>
<text x="719" y="922" font-size="13" fill="#f0d0d0" text-anchor="middle" font-family="'DejaVu Sans',sans-serif">R3360</text>
<use href="#V1" x="784" y="923"/>
<use href="#Q8" x="678" y="951"/>
<text transform="translate(714,988) rotate(-90)" font-size="12" fill="#dbeed5" text-anchor="middle" dominant-baseline="central">Q3360</text>
<use href="#V2" x="758" y="977"/><use href="#H2" x="766" y="957"/>
<use href="#V2" x="758" y="1012"/><use href="#V2" x="758" y="1044"/><use href="#H2" x="778" y="1013"/>
<use href="#V2" x="683" y="1039"/><use href="#V2" x="706" y="1039"/><use href="#V1" x="730" y="1039"/>
<use href="#H2" x="710" y="1078"/>
<rect x="742" y="1080" width="28" height="41" fill="none" stroke="#d5e6cc" stroke-width="1.5"/><rect x="749" y="1084" width="10" height="10" fill="#f11b12"/><rect x="749" y="1106" width="10" height="10" fill="#bdbdbd"/>
<use href="#Q8" x="780" y="1036"/>
<text transform="translate(816,1072) rotate(-90)" font-size="12" fill="#dbeed5" text-anchor="middle" dominant-baseline="central">Q3351</text>
<rect x="756" y="1160" width="40" height="16" fill="#f11b12"/><rect x="813" y="1160" width="28" height="16" fill="#f11b12"/>
<rect x="856" y="1162" width="20" height="14" fill="#f11b12"/><rect x="894" y="1162" width="42" height="14" fill="#f11b12"/>

<!-- R3450 etc -->
<rect x="848" y="710" width="77" height="34" fill="none" stroke="#d5e6cc" stroke-width="1.6"/><rect x="848" y="712" width="26" height="30" fill="#f11b12"/><rect x="898" y="712" width="26" height="30" fill="#f11b12"/>
<text x="886" y="731" font-size="13" fill="#f0d0d0" text-anchor="middle" font-family="'DejaVu Sans',sans-serif">R3450</text>
<use href="#V2" x="937" y="713"/><use href="#V1" x="955" y="713"/>
<rect x="1014" y="709" width="44" height="26" fill="none" stroke="#d5e6cc" stroke-width="1.6"/><rect x="1016" y="711" width="20" height="22" fill="#f11b12"/><rect x="1037" y="711" width="19" height="22" fill="#bdbdbd"/>
<use href="#Q8" x="861" y="757"/>
<text transform="translate(897,795) rotate(-90)" font-size="12" fill="#dbeed5" text-anchor="middle" dominant-baseline="central">Q3450</text>
<use href="#V2" x="1001" y="755"/><use href="#V2" x="961" y="780"/><use href="#H1" x="969" y="828"/><use href="#V2" x="1015" y="836"/>
<use href="#V2" x="864" y="846"/><use href="#V3" x="882" y="846"/><use href="#V1" x="901" y="846"/><use href="#V2" x="921" y="846"/>
<use href="#V2" x="1003" y="871"/>
<rect x="866" y="895" width="79" height="34" fill="none" stroke="#d5e6cc" stroke-width="1.6"/><rect x="868" y="897" width="26" height="30" fill="#f11b12"/><rect x="917" y="897" width="26" height="30" fill="#f11b12"/>
<text x="905" y="916" font-size="13" fill="#f0d0d0" text-anchor="middle" font-family="'DejaVu Sans',sans-serif">R3460</text>
<use href="#V2" x="845" y="919"/>
<use href="#Q8" x="868" y="943"/>
<text transform="translate(904,980) rotate(-90)" font-size="12" fill="#dbeed5" text-anchor="middle" dominant-baseline="central">Q3460</text>
<use href="#V2" x="976" y="895"/><use href="#V3" x="995" y="904"/><use href="#V1" x="1013" y="904"/><use href="#H1" x="977" y="945"/><use href="#V2" x="1013" y="943"/>
<use href="#Q8" x="973" y="996"/>
<text transform="translate(1011,1032) rotate(-90)" font-size="12" fill="#dbeed5" text-anchor="middle" dominant-baseline="central">Q3451</text>
<use href="#V2" x="874" y="1029"/><use href="#V2" x="895" y="1029"/><use href="#V1" x="876" y="1065"/><use href="#V2" x="896" y="1065"/>
<use href="#V2" x="953" y="1032"/>
<rect x="981" y="1087" width="22" height="41" fill="none" stroke="#d5e6cc" stroke-width="1.5"/><rect x="983" y="1089" width="18" height="17" fill="#f11b12"/><rect x="983" y="1108" width="18" height="18" fill="#bdbdbd"/>
<use href="#V3" x="1007" y="1089"/><use href="#V2" x="1041" y="1090"/><use href="#V2" x="1011" y="1137"/>
<rect x="1038" y="1124" width="14" height="42" fill="#f11b12"/><rect x="1062" y="1124" width="13" height="42" fill="#f11b12"/><rect x="1084" y="1124" width="14" height="42" fill="#f11b12"/>
<rect x="1030" y="1154" width="80" height="30" fill="none" stroke="#d5e6cc" stroke-width="1.5"/>
<text transform="translate(1068,1168) rotate(-90)" font-size="18" fill="#dbeed5" text-anchor="middle" dominant-baseline="central">340</text>

<!-- R7620 / R7610 -->
<rect x="1113" y="729" width="66" height="121" fill="none" stroke="#d5e6cc" stroke-width="1.8"/>
<rect x="1118" y="733" width="16" height="18" fill="#f11b12"/><rect x="1158" y="733" width="16" height="18" fill="#f11b12"/>
<rect x="1118" y="768" width="16" height="78" fill="#f11b12"/><rect x="1158" y="768" width="16" height="78" fill="#f11b12"/>
<text transform="translate(1147,790) rotate(-90)" font-size="24" fill="#dbeed5" text-anchor="middle" dominant-baseline="central" font-family="'DejaVu Sans',sans-serif">R7620</text>
<use href="#H1" x="1146" y="856"/><use href="#H1" x="1146" y="889"/>
<rect x="1110" y="910" width="65" height="119" fill="none" stroke="#d5e6cc" stroke-width="1.8"/>
<rect x="1114" y="914" width="16" height="76" fill="#f11b12"/><rect x="1154" y="914" width="16" height="76" fill="#f11b12"/>
<rect x="1114" y="1007" width="16" height="19" fill="#f11b12"/><rect x="1154" y="1007" width="16" height="19" fill="#f11b12"/>
<text transform="translate(1143,972) rotate(-90)" font-size="24" fill="#dbeed5" text-anchor="middle" dominant-baseline="central" font-family="'DejaVu Sans',sans-serif">R7610</text>
<rect x="1140" y="1067" width="26" height="42" fill="none" stroke="#d5e6cc" stroke-width="1.5"/><rect x="1147" y="1071" width="10" height="9" fill="#28d4dc"/><rect x="1147" y="1096" width="10" height="9" fill="#f11b12"/>
<rect x="1293" y="973" width="23" height="41" fill="none" stroke="#d5e6cc" stroke-width="1.5"/><rect x="1299" y="978" width="10" height="9" fill="#28d4dc"/><rect x="1299" y="1000" width="10" height="9" fill="#bdbdbd"/>

<!-- big caps middle/bottom -->
<rect x="1183" y="755" width="110" height="131" fill="none" stroke="#d5e6cc" stroke-width="1.8"/>
<rect x="1195" y="735" width="84" height="70" fill="#f11b12"/><rect x="1193" y="837" width="84" height="68" fill="#bdbdbd"/>
<text transform="translate(1238,815) rotate(-90)" font-size="44" fill="#dbeed5" text-anchor="middle" dominant-baseline="central" textLength="112" lengthAdjust="spacingAndGlyphs" font-family="'DejaVu Sans',sans-serif">C7687</text>
<rect x="1326" y="757" width="107" height="131" fill="none" stroke="#d5e6cc" stroke-width="1.8"/>
<rect x="1340" y="736" width="84" height="70" fill="#bdbdbd"/><rect x="1336" y="837" width="84" height="70" fill="#f11b12"/>
<text transform="translate(1380,820) rotate(-90)" font-size="44" fill="#d0e8c4" text-anchor="middle" dominant-baseline="central" textLength="112" lengthAdjust="spacingAndGlyphs" font-family="'DejaVu Sans',sans-serif">C7666</text>
<rect x="1177" y="964" width="108" height="129" fill="none" stroke="#d5e6cc" stroke-width="1.8"/>
<rect x="1189" y="945" width="84" height="66" fill="#f11b12"/><rect x="1187" y="1044" width="84" height="67" fill="#bdbdbd"/>
<text transform="translate(1232,1028) rotate(-90)" font-size="44" fill="#dbeed5" text-anchor="middle" dominant-baseline="central" textLength="110" lengthAdjust="spacingAndGlyphs" font-family="'DejaVu Sans',sans-serif">C7665</text>
<rect x="1320" y="966" width="108" height="129" fill="none" stroke="#d5e6cc" stroke-width="1.8"/>
<rect x="1334" y="945" width="82" height="66" fill="#f11b12"/><rect x="1332" y="1046" width="82" height="65" fill="#bdbdbd"/>
<text transform="translate(1377,1032) rotate(-90)" font-size="44" fill="#dbeed5" text-anchor="middle" dominant-baseline="central" textLength="110" lengthAdjust="spacingAndGlyphs" font-family="'DejaVu Sans',sans-serif">C7667</text>
<rect x="1175" y="1138" width="106" height="50" fill="none" stroke="#d5e6cc" stroke-width="1.8"/>
<rect x="1187" y="1119" width="82" height="57" fill="#bdbdbd"/>
<text transform="translate(1228,1168) rotate(-90)" font-size="40" fill="#d0e8c4" text-anchor="start" dominant-baseline="central" font-family="'DejaVu Sans',sans-serif">77</text>
<rect x="1318" y="1138" width="106" height="50" fill="none" stroke="#d5e6cc" stroke-width="1.8"/>
<rect x="1330" y="1119" width="82" height="57" fill="#bdbdbd"/>
<text transform="translate(1372,1168) rotate(-90)" font-size="40" fill="#d0e8c4" text-anchor="start" dominant-baseline="central" font-family="'DejaVu Sans',sans-serif">01</text>
</svg>
</body></html>
